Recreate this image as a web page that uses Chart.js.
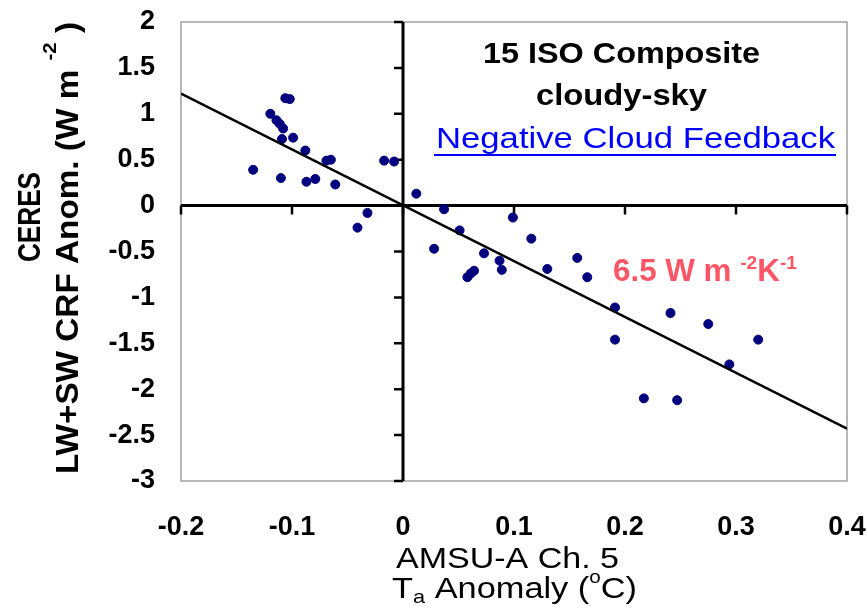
<!DOCTYPE html>
<html>
<head>
<meta charset="utf-8">
<script src="https://cdn.jsdelivr.net/npm/chart.js@4"></script>
<style>
  html, body { margin: 0; padding: 0; background: #fff; }
  #wrap { width: 867px; height: 608px; }
</style>
</head>
<body>
<div id="wrap"><canvas id="chart" width="867" height="608"></canvas></div>
<script>
// === DATA ===
// AMSU-A Ch.5 Ta anomaly (°C)
const taAnom = [
  -0.106, -0.102, -0.1195, -0.114, -0.111, -0.108, -0.109, -0.099, -0.088, -0.069,
  -0.065, -0.135, -0.110, -0.087, -0.079, -0.061, -0.017, -0.008, 0.012, -0.032,
  -0.041, 0.037, 0.051, 0.028, 0.073, 0.087, 0.089, 0.058, 0.061, 0.064,
  0.099, 0.1156, 0.130, 0.157, 0.166, 0.191, 0.191, 0.241, 0.275, 0.320,
  0.294, 0.217, 0.247
];
// CERES LW+SW CRF anomaly (W m-2)
const crfAnom = [
  1.17, 1.16, 1.00, 0.93, 0.89, 0.84, 0.725, 0.74, 0.60, 0.49,
  0.50, 0.39, 0.30, 0.26, 0.29, 0.23, 0.49, 0.48, 0.13, -0.08,
  -0.24, -0.04, -0.27, -0.47, -0.52, -0.60, -0.70, -0.78, -0.74, -0.71,
  -0.13, -0.36, -0.69, -0.57, -0.78, -1.11, -1.46, -1.17, -1.29, -1.46,
  -1.73, -2.10, -2.12
];
// regression line end points
const fitX = [-0.2, 0.4];
const fitY = [1.22, -2.43];

const xTickLabels = ['-0.2', '-0.1', '0', '0.1', '0.2', '0.3', '0.4'];
const yTickLabels = ['-3', '-2.5', '-2', '-1.5', '-1', '-0.5', '0', '0.5', '1', '1.5', '2'];

const FONT = '"Liberation Sans", Arial, sans-serif';

// === ТЕКСТ С ИНДЕКСАМИ ===
function richWidth(ctx, segs) {
  let w = 0;
  segs.forEach(s => { ctx.font = s.font; w += ctx.measureText(s.text).width; });
  return w;
}
// рисует сегменты от (x,y); если задана ширина — растягивает по горизонтали
function drawRich(ctx, x, y, segs, color, width) {
  const natural = richWidth(ctx, segs);
  const k = width ? width / natural : 1;
  ctx.save();
  ctx.translate(x, y);
  ctx.scale(k, 1);
  ctx.fillStyle = color;
  ctx.textBaseline = 'alphabetic';
  ctx.textAlign = 'left';
  let cx = 0;
  segs.forEach(s => {
    ctx.font = s.font;
    ctx.fillText(s.text, cx, s.dy || 0);
    cx += ctx.measureText(s.text).width;
  });
  ctx.restore();
  return natural * k;
}

// === ОФОРМЛЕНИЕ: рамка, оси через ноль, надписи ===
const decor = {
  id: 'decor',
  beforeDatasetsDraw(chart) {
    const { ctx, chartArea: a, scales: { x, y } } = chart;
    ctx.save();
    ctx.strokeStyle = '#a0a0a0';
    ctx.lineWidth = 1.5;
    ctx.strokeRect(a.left, a.top, a.right - a.left, a.bottom - a.top);

    const x0 = x.getPixelForValue(0);
    const y0 = y.getPixelForValue(0);
    ctx.strokeStyle = '#000';
    ctx.lineWidth = 3;
    ctx.beginPath();
    ctx.moveTo(a.left, y0); ctx.lineTo(a.right, y0);
    ctx.moveTo(x0, a.top); ctx.lineTo(x0, a.bottom);
    ctx.stroke();

    ctx.lineWidth = 2.5;
    ctx.beginPath();
    x.ticks.forEach(t => {
      const px = x.getPixelForValue(t.value);
      ctx.moveTo(px, y0); ctx.lineTo(px, y0 + 9);
    });
    y.ticks.forEach(t => {
      const py = y.getPixelForValue(t.value);
      ctx.moveTo(x0 - 9, py); ctx.lineTo(x0, py);
    });
    ctx.stroke();
    ctx.restore();
  },
  afterDraw(chart) {
    const ctx = chart.ctx;
    ctx.save();

    // заголовок внутри графика
    const tf = 'bold 30px ' + FONT;
    drawRich(ctx, 483, 63, [{ text: '15 ISO Composite', font: tf }], '#000', 277);
    drawRich(ctx, 536, 105, [{ text: 'cloudy-sky', font: tf }], '#000', 171);
    drawRich(ctx, 436, 148, [{ text: 'Negative Cloud Feedback', font: '30px ' + FONT }], '#0000ff', 399);
    ctx.fillStyle = '#0000ff';
    ctx.fillRect(434, 154, 402, 2);

    // наклон
    const big = 'bold 31px ' + FONT, sup = 'bold 19px ' + FONT;
    drawRich(ctx, 613, 281, [
      { text: '6.5 W m ', font: big },
      { text: '-2', font: sup, dy: -12 },
      { text: 'K', font: big },
      { text: '-1', font: sup, dy: -12 }
    ], '#ff5566', 184);

    // подпись оси X
    const xf = '30px ' + FONT;
    drawRich(ctx, 396, 568, [{ text: 'AMSU-A Ch. 5', font: xf }], '#000', 223);
    drawRich(ctx, 392, 598, [
      { text: 'T', font: xf },
      { text: 'a', font: '19px ' + FONT, dy: 5 },
      { text: ' Anomaly (', font: xf },
      { text: 'o', font: '18px ' + FONT, dy: -15 },
      { text: 'C)', font: xf }
    ], '#000', 245);

    // подпись оси Y (повернутая)
    const yf = 'bold 31px ' + FONT;
    ctx.save();
    ctx.translate(40, 262);
    ctx.rotate(-Math.PI / 2);
    drawRich(ctx, 0, 0, [{ text: 'CERES', font: yf }], '#000', 90);
    ctx.restore();

    ctx.save();
    ctx.translate(78, 474);
    ctx.rotate(-Math.PI / 2);
    drawRich(ctx, 0, 0, [
      { text: 'LW+SW CRF Anom. (W m ', font: yf },
      { text: '-2', font: 'bold 19px ' + FONT, dy: -22 },
      { text: ' )', font: yf }
    ], '#000', 452);
    ctx.restore();

    ctx.restore();
  }
};

// отключаем авто-отступы под подписи делений, чтобы область графика стояла на месте
function noPad(s) {
  s.paddingLeft = 0; s.paddingRight = 0; s.paddingTop = 0; s.paddingBottom = 0;
}

// === ГРАФИК ===
const points = taAnom.map((v, i) => ({ x: v, y: crfAnom[i] }));
const fitLine = fitX.map((v, i) => ({ x: v, y: fitY[i] }));

new Chart(document.getElementById('chart'), {
  type: 'scatter',
  data: {
    datasets: [
      {
        label: 'fit',
        data: fitLine,
        showLine: true,
        borderColor: '#000',
        borderWidth: 2.5,
        pointRadius: 0,
        order: 0
      },
      {
        label: 'ISO composite',
        data: points,
        backgroundColor: '#00007f',
        borderColor: '#00007f',
        pointRadius: 4.5,
        pointHoverRadius: 4.5,
        order: 1
      }
    ]
  },
  options: {
    responsive: false,
    animation: false,
    devicePixelRatio: 1,
    layout: { padding: { left: 0, top: 22, right: 20, bottom: 0 } },
    plugins: { legend: { display: false }, tooltip: { enabled: false } },
    scales: {
      x: {
        type: 'linear',
        min: -0.2, max: 0.4,
        grid: { display: false, drawTicks: false },
        border: { display: false },
        ticks: {
          stepSize: 0.1,
          padding: 30,
          maxRotation: 0,
          color: '#000',
          font: { family: FONT, size: 27, weight: 'bold' },
          callback: (v, i) => xTickLabels[i]
        },
        afterFit: s => { s.height = 127; noPad(s); }
      },
      y: {
        type: 'linear',
        min: -3, max: 2,
        grid: { display: false, drawTicks: false },
        border: { display: false },
        ticks: {
          stepSize: 0.5,
          padding: 26,
          color: '#000',
          font: { family: FONT, size: 27, weight: 'bold' },
          callback: (v, i) => yTickLabels[i]
        },
        afterFit: s => { s.width = 181; noPad(s); }
      }
    }
  },
  plugins: [decor]
});
</script>
</body>
</html>
